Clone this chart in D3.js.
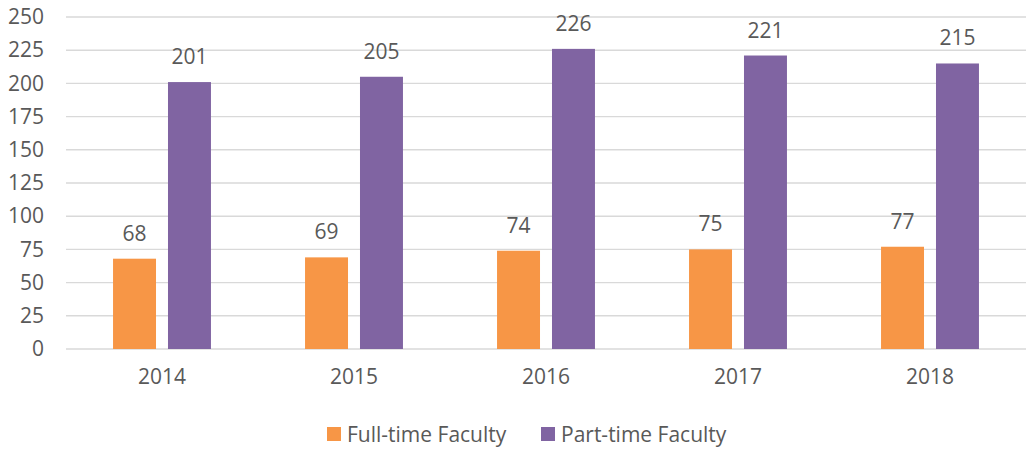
<!DOCTYPE html>
<html>
<head>
<meta charset="utf-8">
<script src="https://cdn.jsdelivr.net/npm/d3@7"></script>
<style>
  html, body { margin: 0; padding: 0; background: #fff; }
  text { font-family: "Open Sans", "Noto Sans", sans-serif; fill: #595959; }
</style>
</head>
<body>
<svg id="chart" width="1029" height="450"></svg>
<script>
// Faculty headcount by year
const years = ["2014", "2015", "2016", "2017", "2018"];
const seriesNames = ["Full-time Faculty", "Part-time Faculty"];
const fullTime = [68, 69, 74, 75, 77];
const partTime = [201, 205, 226, 221, 215];
const yTicks = [0, 25, 50, 75, 100, 125, 150, 175, 200, 225, 250];
const colors = ["#F79646", "#8064A2"];

const rows = years.map((y, i) => ({ year: y, values: [fullTime[i], partTime[i]] }));

const svg = d3.select("#chart");
const plotLeft = 66, plotRight = 1026, plotTop = 17, plotBottom = 349;
const fontSize = 21;

const x0 = d3.scaleBand().domain(years).range([plotLeft, plotRight]).padding(0);
const bw = x0.bandwidth();
const x1 = d3.scaleBand().domain(d3.range(seriesNames.length))
  .range([bw * 0.245, bw * 0.755]).paddingInner(0.218).paddingOuter(0);
const y = d3.scaleLinear().domain([0, 250]).range([plotBottom, plotTop]);

// horizontal gridlines
svg.append("g")
  .selectAll("line")
  .data(yTicks)
  .join("line")
  .attr("x1", plotLeft).attr("x2", plotRight)
  .attr("y1", d => y(d)).attr("y2", d => y(d))
  .attr("stroke", "#d9d9d9").attr("stroke-width", 1.4);

// y axis labels
const yAxis = svg.append("g")
  .attr("transform", `translate(${plotLeft},0)`)
  .call(d3.axisLeft(y).tickValues(yTicks).tickSize(0).tickPadding(22));
yAxis.select(".domain").remove();
yAxis.selectAll("text")
  .attr("font-family", "Open Sans, Noto Sans, sans-serif")
  .attr("font-size", fontSize).attr("fill", "#595959");

// x axis labels
const xAxis = svg.append("g")
  .attr("transform", `translate(0,${plotBottom})`)
  .call(d3.axisBottom(x0).tickSize(0).tickPadding(20));
xAxis.select(".domain").remove();
xAxis.selectAll("text")
  .attr("font-family", "Open Sans, Noto Sans, sans-serif")
  .attr("font-size", fontSize).attr("fill", "#595959");

// bars and value labels
const groups = svg.append("g").selectAll("g")
  .data(rows).join("g")
  .attr("transform", d => `translate(${x0(d.year)},0)`);

groups.selectAll("rect")
  .data(d => d.values.map((v, k) => ({ v, k })))
  .join("rect")
  .attr("x", d => x1(d.k))
  .attr("width", x1.bandwidth())
  .attr("y", d => y(d.v))
  .attr("height", d => y(0) - y(d.v))
  .attr("fill", d => colors[d.k]);

groups.selectAll("text.val")
  .data(d => d.values.map((v, k) => ({ v, k })))
  .join("text")
  .attr("class", "val")
  .attr("x", d => x1(d.k) + x1.bandwidth() / 2)
  .attr("y", d => y(d.v) - 18)
  .attr("text-anchor", "middle")
  .attr("font-size", fontSize)
  .attr("fill", "#404040")
  .text(d => d.v);

// legend
const legendX = [327, 541];
const legend = svg.append("g").selectAll("g")
  .data(seriesNames).join("g")
  .attr("transform", (d, i) => `translate(${legendX[i]},427)`);
legend.append("rect").attr("width", 14).attr("height", 14)
  .attr("fill", (d, i) => colors[i]);
legend.append("text").attr("x", 20).attr("y", 14.5)
  .attr("font-size", fontSize).attr("fill", "#595959")
  .text(d => d);
</script>
</body>
</html>
